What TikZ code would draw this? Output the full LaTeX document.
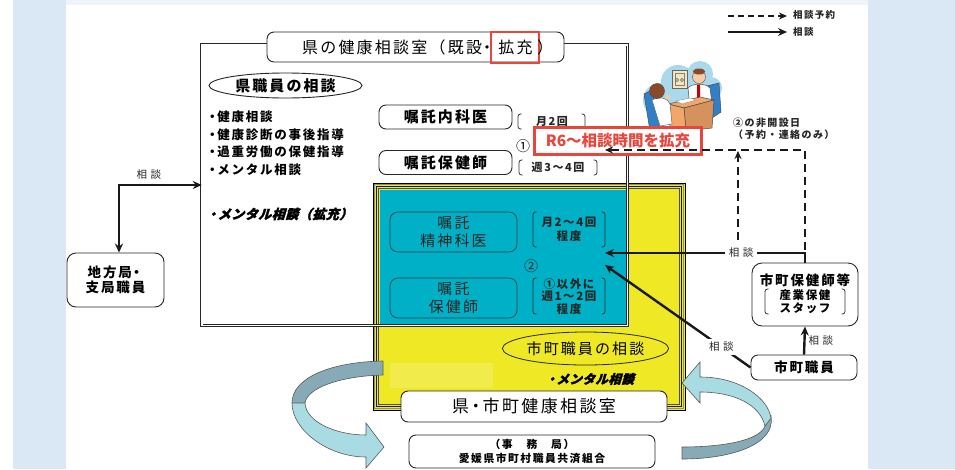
\documentclass[tikz,border=0pt]{standalone}
\usepackage{fontspec}
\setmainfont{Noto Sans CJK JP}[LetterSpace=14]
\newfontfamily\nsp{Noto Sans CJK JP}
\newfontfamily\slantjp{Noto Sans CJK JP}[FakeSlant=0.3,FakeBold=2.5,LetterSpace=4,
  BoldFeatures={FakeSlant=0.3,FakeBold=2}]
\usetikzlibrary{arrows.meta,shapes.geometric}

\definecolor{pageblue}{HTML}{DAE8F5}
\definecolor{roomyellow}{HTML}{EFE824}
\definecolor{roomcyan}{HTML}{00B0C6}
\definecolor{alertred}{HTML}{E8463C}
\definecolor{ribbonlight}{HTML}{A8DCE2}
\definecolor{ribbondark}{HTML}{86ABB6}
\definecolor{cloudblue}{HTML}{A9D9EA}
\definecolor{chairblue}{HTML}{2F80C8}
\definecolor{deskorange}{HTML}{F2A66A}
\definecolor{hairbrown}{HTML}{8A4A2A}
\definecolor{skin}{HTML}{F5CBA8}
\definecolor{framecream}{HTML}{F3E6BF}

\newcommand\fsz[2]{\fontsize{#1}{#2}\selectfont}
% a tight middle dot used as list bullet / separator
\newcommand\tdot{\hspace*{-0.25em}・\hspace*{-0.1em}}
% a pair of square brackets with rounded ends, x1 x2 y1 y2
\newcommand\bracketpair[4]{%
  \draw[brk] (#1+3.5,#3) -- (#1,#3) -- (#1,#4) -- (#1+3.5,#4);
  \draw[brk] (#2-3.5,#3) -- (#2,#3) -- (#2,#4) -- (#2-3.5,#4);}

\tikzset{
  rbox/.style={draw=black!85, fill=white, rounded corners=7pt, line width=0.9pt, inner sep=0pt, align=center},
  cbox/.style={draw=black!75, rounded corners=8pt, line width=0.7pt, inner sep=0pt, align=center, text=black!85},
  brk/.style={line width=0.8pt, draw=black!80, rounded corners=2.5pt},
  conn/.style={line width=2.4pt, draw=black!90, -{Stealth[length=9pt,width=8pt]}},
  dconn/.style={line width=1.8pt, draw=black!90, dash pattern=on 8pt off 5pt, -{Stealth[length=8pt,width=7pt]}},
  lbl/.style={font=\fsz{10.5}{12}\bfseries, inner sep=1pt, text=black!85},
  bullet/.style={anchor=west, font=\fsz{12.5}{14}\bfseries, inner sep=0pt},
  ribbon/.style={draw=black!65, line width=0.6pt},
}

\begin{document}
\begin{tikzpicture}[x=1pt,y=-1pt]
\useasboundingbox (0,0) rectangle (955,469);

% page background
\fill[white] (0,0) rectangle (955,469);
\fill[pageblue] (13,0) rectangle (66,469);
\fill[pageblue] (868,0) rectangle (955,469);
\fill[pageblue!45] (66,0) rectangle (868,5);

% legend
\coordinate (lgda) at (728,16); \coordinate (lgdb) at (787,16);
\coordinate (lgsa) at (728,32); \coordinate (lgsb) at (787,32);
\draw[dconn, line width=1.3pt, dash pattern=on 6pt off 4pt] (lgda) -- (lgdb);
\draw[conn, line width=1.3pt] (lgsa) -- (lgsb);
\node[lbl, anchor=west, font=\fsz{9.5}{11}\bfseries] (lgdt) at (792,15) {相談予約};
\node[lbl, anchor=west, font=\fsz{9.5}{11}\bfseries] (lgst) at (792,32) {相談};

% prefectural consultation room (white area)
\node[fill=white, minimum width=425pt, minimum height=280pt, inner sep=0pt] (kenroom) at (414.5,185) {};

% joint prefecture / municipal room
\node[fill=roomyellow, draw=black, line width=0.8pt, minimum width=312pt, minimum height=227pt, inner sep=0pt] (jointroom) at (529,296.5) {};
\draw[black!45, line width=1.2pt] ([shift={(2,2)}]jointroom.north west) rectangle ([shift={(-2,-2)}]jointroom.south east);
\draw[black!90, line width=0.7pt] ([shift={(3.6,3.6)}]jointroom.north west) rectangle ([shift={(-3.6,-3.6)}]jointroom.south east);
\draw[black!70, line width=0.5pt] ([shift={(6,6)}]jointroom.north west) rectangle ([shift={(-6,-6)}]jointroom.south east);
\fill[white, opacity=0.18] (390,363) rectangle (493,388);

% overlap of both rooms
\fill[roomcyan] (379.5,189.5) rectangle (627,325);

% outline of the prefectural room
\draw[black!85, line width=0.7pt, double=white, double distance=1.4pt] (kenroom.north west) rectangle (kenroom.south east);

% title of the prefectural room
\node[rbox, minimum width=297pt, minimum height=30pt] (kentitle) at (415.5,47) {};
\node[draw=alertred, line width=1.6pt, minimum width=48pt, minimum height=31pt, inner sep=0pt, font=\fsz{16}{18}] (kakuju) at (515,47.5) {\hspace*{1pt}拡充};
\node[anchor=east, inner sep=0pt, font=\fsz{16}{18}] (kentitleA) at ([xshift=5pt]kakuju.west) {県の健康相談室（既設\hspace*{-0.2em}・};
\node[anchor=west, inner sep=0pt, font=\fsz{16}{18}] (kentitleC) at ([xshift=-3pt]kakuju.east) {）};

% prefectural staff
\node[ellipse, draw=black!85, line width=0.9pt, minimum width=153pt, minimum height=25pt, inner sep=0pt, font=\fsz{15}{17}\bfseries] (kenstaff) at (285.5,85.5) {県職員の相談};
\node[bullet] (b1) at (209,117) {\tdot 健康相談};
\node[bullet] (b2) at (209,134.5) {\tdot 健康診断の事後指導};
\node[bullet] (b3) at (209,152) {\tdot 過重労働の保健指導};
\node[bullet] (b4) at (209,169.5) {\tdot メンタル相談};
\node[anchor=west, inner sep=0pt, font=\slantjp\bfseries\fsz{13}{15}] (b5) at (209,214) {\tdot メンタル相談（拡充）};

% commissioned internist and nurse
\node[rbox, minimum width=133pt, minimum height=24pt, font=\fsz{15}{17}\bfseries] (naika) at (445.5,117) {嘱託内科医};
\node[rbox, minimum width=133pt, minimum height=24pt, font=\fsz{15}{17}\bfseries] (hoken1) at (445.5,162.5) {嘱託保健師};
\bracketpair{518}{585}{114}{129}
\node[lbl, font=\fsz{11}{13}\bfseries] (tsuki2) at (552,121.5) {月2回};
\node[inner sep=0pt, font=\fsz{14}{16}] (maru1) at (523,146) {①};
\bracketpair{519}{597}{160}{175}
\node[lbl, font=\fsz{11}{13}\bfseries] (shu34) at (558,167.5) {週3～4回};

% illustration: consultation scene
\fill[cloudblue] (660,100) circle (17) (678,82) circle (17) (700,74) circle (13) (711,88) circle (11) (688,100) circle (18);
\filldraw[fill=framecream, draw=black!60, line width=0.4pt] (672,70) rectangle (687,88);
\draw[black!50, line width=0.4pt] (675,73.5) rectangle (684,85);
\draw[black!55, line width=0.6pt] (677,80) circle (1.6) (682,80) circle (1.6);
\filldraw[fill=chairblue, draw=black!70, line width=0.5pt] (707,86) -- (719,83) -- (721,112) -- (712,118) -- cycle;
\filldraw[fill=white, draw=black!70, line width=0.5pt] (688,88) .. controls (692,83) and (706,83) .. (710,88) -- (712,104) -- (690,108) -- cycle;
\fill[red!80!black] (697,85) -- (700,85) -- (700,99) -- (698.5,102) -- (697,99) -- cycle;
\filldraw[fill=skin, draw=black!70, line width=0.4pt] (699,77) circle (6.5);
\fill[hairbrown] (699,71.5) ellipse (6.2 and 3);
\filldraw[fill=deskorange, draw=black!70, line width=0.5pt] (668,104) -- (700,97) -- (714,100) -- (684,108) -- cycle;
\filldraw[fill=deskorange!88!black, draw=black!70, line width=0.5pt] (684,108) -- (714,100) -- (712,128) -- (686,131) -- cycle;
\filldraw[fill=deskorange, draw=black!70, line width=0.5pt] (668,104) -- (684,108) -- (686,131) -- (670,128) -- cycle;
\filldraw[fill=white, draw=black!50, line width=0.3pt] (676,101) -- (690,98) -- (696,100) -- (682,104) -- cycle;
\filldraw[fill=chairblue, draw=black!70, line width=0.5pt] (644,94) -- (652,90) -- (660,124) -- (668,131) -- (650,131) -- cycle;
\filldraw[fill=white, draw=black!60, line width=0.5pt] (652,100) .. controls (660,96) and (668,98) .. (670,104) -- (672,124) -- (660,126) -- cycle;
\filldraw[fill=hairbrown, draw=black!70, line width=0.4pt] (657,91) circle (7.5);
\fill[skin] (668,97) circle (2.5);

% extension notice
\node[draw=alertred, fill=white, line width=2.2pt, minimum width=167pt, minimum height=27pt, inner sep=0pt, text=alertred, font=\nsp\fsz{15.5}{17}\bfseries] (r6) at (618,141) {R6～相談時間を拡充};

% inside the overlap
\node[cbox, minimum width=127pt, minimum height=40pt, font=\fsz{15}{18}] (seishin) at (453.5,232) {嘱託\\精神科医};
\node[cbox, minimum width=127pt, minimum height=40pt, font=\fsz{15}{18}] (hoken2) at (453.5,298) {嘱託\\保健師};
\bracketpair{533}{605}{212}{247}
\node[lbl, align=center, font=\fsz{11.5}{13.5}\bfseries] (tsuki24) at (569,229.5) {月2～4回\\程度};
\node[inner sep=0pt, font=\fsz{14}{16}, text=black!85] (maru2) at (531,266) {②};
\bracketpair{533}{605}{278}{314}
\node[lbl, align=center, font=\fsz{11.5}{12.7}\bfseries] (igai) at (569,296.5) {①以外に\\週1～2回\\程度};

% municipal staff in the joint room
\node[ellipse, draw=black!85, line width=0.8pt, minimum width=145pt, minimum height=33pt, inner sep=0pt, font=\fsz{15}{17}] (shistaff) at (585.5,348.5) {市町職員の相談};
\node[inner sep=0pt, font=\slantjp\bfseries\fsz{12.5}{14}] (mental2) at (591,379) {\tdot メンタル相談};

% joint room title and secretariat
\node[rbox, minimum width=266pt, minimum height=31pt, font=\fsz{17}{19}] (jointtitle) at (534,406.5) {県\hspace*{-0.1em}・\hspace*{-0.1em}市町健康相談室};
\node[rbox, minimum width=246pt, minimum height=33pt, font=\fsz{10.8}{14.5}\bfseries] (jimu) at (532,451.5) {（事　務　局）\\愛媛県市町村職員共済組合};

% circulation ribbons
\fill[ribbondark] (383,361) .. controls (330,362) and (292,378) .. (292,403) -- (305,403) .. controls (307,388) and (340,376) .. (383,375) -- cycle;
\draw[ribbon] (383,361) .. controls (330,362) and (292,378) .. (292,403) (305,403) .. controls (307,388) and (340,376) .. (383,375) -- (383,361);
\filldraw[fill=ribbonlight, ribbon] (292,403) .. controls (292,430) and (328,457) .. (366,457) -- (366,468) -- (384,447) -- (366,423) -- (366,435) .. controls (336,435) and (306,422) .. (305,403) -- cycle;

\filldraw[fill=ribbondark, ribbon] (771,416) .. controls (776,445) and (730,459) .. (682,459) -- (682,447) .. controls (725,447) and (760,440) .. (765,426) -- cycle;
\filldraw[fill=ribbonlight, ribbon] (771,418) .. controls (768,398) and (740,377) .. (700,377) -- (700,362) -- (682,383) -- (700,403) -- (700,392) .. controls (735,392) and (760,405) .. (765,426) -- cycle;

% regional office staff
\node[rbox, minimum width=97pt, minimum height=54pt, font=\fsz{13.5}{15.5}\bfseries, rounded corners=9pt] (chiho) at (115.5,280) {地方局\hspace*{-0.15em}・\\支局職員};
\draw[conn, {Stealth[length=9pt,width=8pt]}-{Stealth[length=9pt,width=8pt]}] ([xshift=3.5pt]chiho.north) |- (kenroom.west)
  node[lbl, pos=0.68, above=3pt, font=\fsz{10.5}{12}] (lblchiho) {相\,\,談};

% municipal health nurses and municipal staff
\node[rbox, minimum width=106pt, minimum height=63pt, rounded corners=10pt] (shihoken) at (805,294.5) {};
\node[inner sep=0pt, font=\fsz{13.5}{15}\bfseries] (shihokenT) at (805,280) {市町保健師等};
\bracketpair{765}{845}{289}{314}
\node[inner sep=0pt, align=center, font=\fsz{11.5}{13}\bfseries] (shihokenS) at (805,302) {産業保健\\スタッフ};
\node[rbox, minimum width=106pt, minimum height=25pt, font=\fsz{13.5}{15}\bfseries] (shishoku) at (804,367.5) {市町職員};

% connectors on the right
\coordinate (tipA) at (605,253);
\coordinate (tipB) at (605,150);
\coordinate (tipC) at (605,265);
\coordinate (offA) at (738,253);
\coordinate (offB) at (738,151);
\draw[dconn] (shihoken.north) |- (tipB);
\draw[dconn] (offA) -- (offB);
\draw[conn] (shihoken.north) |- (tipA)
  node[lbl, pos=0.66, fill=white, inner xsep=4pt, inner ysep=3pt, font=\fsz{10.5}{12}] (lblA) {相\,\,談};
\draw[conn] (shishoku.west) -- (tipC)
  node[lbl, pos=0.2, fill=white, inner xsep=4pt, inner ysep=3pt, font=\fsz{10.5}{12}] (lblC) {相\,\,談};
\draw[conn] (shishoku.north) -- (shihoken.south)
  node[lbl, midway, right=2pt, font=\fsz{10.5}{12}] (lblB) {相\,\,談};
\node[lbl, anchor=north west, align=left, font=\fsz{10}{11.5}\bfseries] (hikaisetsu) at (732,117) {②の非開設日\\（予約・連絡のみ）};

\end{tikzpicture}
\end{document}
